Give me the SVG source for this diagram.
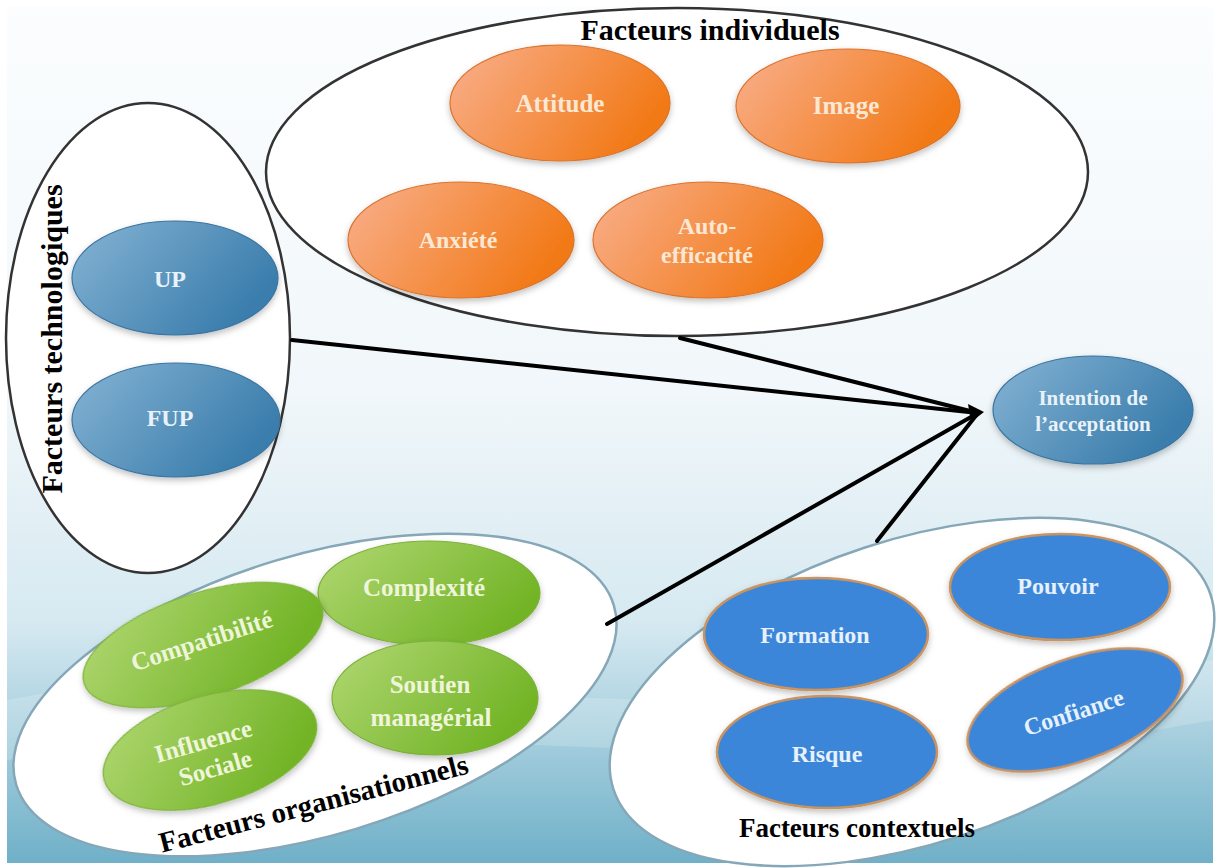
<svg xmlns="http://www.w3.org/2000/svg" width="1220" height="868" viewBox="0 0 1220 868">
<style>
.t{font-family:"Liberation Serif","Times New Roman",serif;font-weight:bold;text-anchor:middle}
.title{fill:#000;font-size:29px}
.or{fill:#fbe8d4;font-size:24px}
.tb{fill:#e9f2f9;font-size:24px}
.gr{fill:#eef5da;font-size:25px}
.bl{fill:#e6f1fb;font-size:24px}
.big{fill:#fff;stroke:#333;stroke-width:2.5}
.bigb{fill:#fff;stroke:#86a7b8;stroke-width:2.5}
.on{fill:url(#gOr);stroke:#d9742e;stroke-width:1.2;filter:url(#sh)}
.tn{fill:url(#gTb);stroke:#3a74a0;stroke-width:1.2;filter:url(#sh)}
.gn{fill:url(#gGr);stroke:#7cb13a;stroke-width:1.2;filter:url(#sh)}
.bn{fill:#3b86d9;stroke:#c99461;stroke-width:2.5;filter:url(#sh)}
.cn{stroke:#000;stroke-width:4;fill:none;stroke-linecap:round}
</style>
<defs>
<linearGradient id="bg" x1="0" y1="0" x2="0" y2="1">
<stop offset="0" stop-color="#fbfdfe"/>
<stop offset="0.45" stop-color="#f1f7fa"/>
<stop offset="0.72" stop-color="#d6e9f1"/>
<stop offset="1" stop-color="#6fb0c8"/>
</linearGradient>
<linearGradient id="gOr" x1="0" y1="0" x2="1" y2="0.4">
<stop offset="0" stop-color="#f9b08e"/>
<stop offset="1" stop-color="#f27a18"/>
</linearGradient>
<linearGradient id="gTb" x1="0" y1="0" x2="1" y2="0.5">
<stop offset="0" stop-color="#86b4d4"/>
<stop offset="1" stop-color="#3a7dac"/>
</linearGradient>
<linearGradient id="gGr" x1="0" y1="0" x2="1" y2="0.5">
<stop offset="0" stop-color="#b2d874"/>
<stop offset="1" stop-color="#72b426"/>
</linearGradient>
<filter id="sh" x="-20%" y="-20%" width="140%" height="150%">
<feDropShadow dx="0" dy="3" stdDeviation="3" flood-color="#000" flood-opacity="0.25"/>
</filter>
</defs>
<rect x="0" y="0" width="1220" height="868" fill="#ffffff"/>
<rect x="7" y="7" width="1206" height="856" fill="url(#bg)"/>
<path d="M7,700 C300,640 700,760 1213,660 L1213,720 C800,800 400,700 7,760 Z" fill="#ffffff" opacity="0.18"/>

<g id="tech">
<ellipse class="big" cx="148" cy="338" rx="142" ry="235"/>
<text class="t title" transform="translate(62,339) rotate(-90)" style="font-size:30px">Facteurs technologiques</text>
</g>
<g id="individuels">
<ellipse class="big" cx="677" cy="172" rx="411" ry="164"/>
<text class="t title" x="710" y="40" style="font-size:30px">Facteurs individuels</text>
</g>
<g id="organisationnels">
<ellipse class="bigb" cx="0" cy="0" rx="312" ry="140" transform="translate(315,695) rotate(-16.7)"/>
<text class="t title" transform="translate(316,813) rotate(-14.5)">Facteurs organisationnels</text>
</g>
<g id="contextuels">
<ellipse class="bigb" cx="0" cy="0" rx="314" ry="152" transform="translate(912,692) rotate(-18)"/>
<text class="t title" x="857" y="837" style="font-size:27px">Facteurs contextuels</text>
</g>

<g id="connectors">
<line class="cn" x1="292" y1="340" x2="978" y2="413"/>
<line class="cn" x1="680" y1="338" x2="978" y2="413"/>
<line class="cn" x1="607" y1="624" x2="978" y2="413"/>
<line class="cn" x1="877" y1="541" x2="978" y2="413"/>
<polygon points="984,412 968,404 971,422" fill="#000"/>
</g>

<g id="attitude"><ellipse class="on" cx="560" cy="103" rx="110" ry="58"/><text class="t or" x="560" y="112" style="font-size:25px">Attitude</text></g>
<g id="image"><ellipse class="on" cx="848" cy="106" rx="112" ry="57"/><text class="t or" x="846" y="114" style="font-size:25px">Image</text></g>
<g id="anxiete"><ellipse class="on" cx="461" cy="240" rx="113" ry="58"/><text class="t or" x="458" y="248">Anxiété</text></g>
<g id="auto-efficacite"><ellipse class="on" cx="708" cy="240" rx="115" ry="58"/><text class="t or" x="707" y="234">Auto-</text><text class="t or" x="707" y="263">efficacité</text></g>

<g id="up"><ellipse class="tn" cx="175" cy="278" rx="103" ry="57"/><text class="t tb" x="170" y="287">UP</text></g>
<g id="fup"><ellipse class="tn" cx="176" cy="420" rx="104" ry="57"/><text class="t tb" x="170" y="426">FUP</text></g>

<g id="intention"><ellipse class="tn" cx="1093" cy="410" rx="100" ry="54"/><text class="t tb" x="1093" y="405" style="font-size:21px">Intention de</text><text class="t tb" x="1093" y="431" style="font-size:21px">l’acceptation</text></g>

<g id="complexite"><ellipse class="gn" cx="429" cy="593" rx="111" ry="52"/><text class="t gr" x="424" y="596">Complexité</text></g>
<g id="compatibilite" transform="translate(203,645) rotate(-18)"><ellipse class="gn" cx="0" cy="0" rx="125" ry="52"/><text class="t gr" x="0" y="4">Compatibilité</text></g>
<g id="soutien"><ellipse class="gn" cx="435" cy="698" rx="103" ry="57"/><text class="t gr" x="430" y="693">Soutien</text><text class="t gr" x="431" y="726">managérial</text></g>
<g id="influence" transform="translate(210,750) rotate(-16)"><ellipse class="gn" cx="0" cy="0" rx="110" ry="54"/><text class="t gr" x="-4" y="-2">Influence</text><text class="t gr" x="0" y="27">Sociale</text></g>

<g id="formation"><ellipse class="bn" cx="816" cy="634" rx="112" ry="56"/><text class="t bl" x="815" y="643">Formation</text></g>
<g id="pouvoir"><ellipse class="bn" cx="1060" cy="587" rx="110" ry="53"/><text class="t bl" x="1058" y="594">Pouvoir</text></g>
<g id="risque"><ellipse class="bn" cx="827" cy="752" rx="110" ry="56"/><text class="t bl" x="827" y="762">Risque</text></g>
<g id="confiance" transform="translate(1075,710) rotate(-20)"><ellipse class="bn" cx="0" cy="0" rx="113" ry="51"/><text class="t bl" x="-2" y="10" transform="rotate(2)">Confiance</text></g>
</svg>
